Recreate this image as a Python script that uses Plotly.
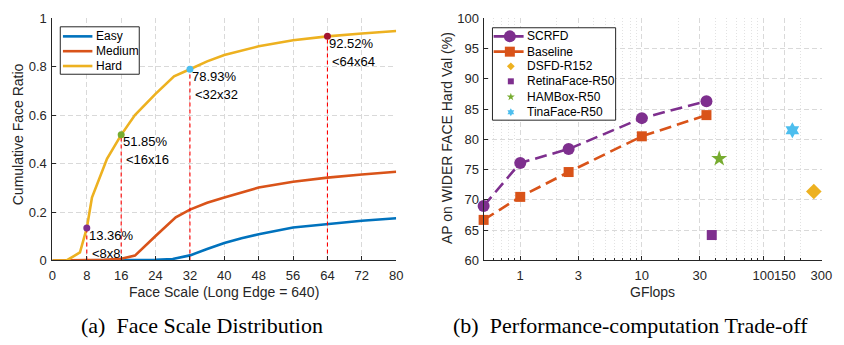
import math
import plotly.graph_objects as go

# ---------------- data: (a) face scale distribution ----------------
easy_x = [0, 16, 24, 28, 32, 36, 40, 44, 48, 56, 64, 72, 80]
easy_y = [0, 0.0, 0.003, 0.006, 0.021, 0.047, 0.072, 0.092, 0.108, 0.136, 0.151, 0.164, 0.174]
medium_x = [0, 8, 12, 16, 19.2, 24, 28.7, 32, 36, 40, 48, 56, 64, 72, 80]
medium_y = [0, 0.001, 0.003, 0.007, 0.02, 0.101, 0.178, 0.21, 0.238, 0.26, 0.301, 0.325, 0.342, 0.355, 0.366]
hard_x = [0, 3.3, 6.4, 8, 9.2, 12.7, 16, 19.2, 24, 28.3, 32, 36, 40, 48, 56, 64, 72, 80]
hard_y = [0, 0, 0.033, 0.1336, 0.26, 0.42, 0.5185, 0.60, 0.688, 0.760, 0.7893, 0.822, 0.848, 0.884, 0.909, 0.9252, 0.937, 0.947]
series_names = ["Easy", "Medium", "Hard"]
series_colors = ["#0072BD", "#D95319", "#EDB120"]

mark_x = [8, 16, 32, 64]
mark_y = [0.1336, 0.5185, 0.7893, 0.9252]
mark_pct = ["13.36%", "51.85%", "78.93%", "92.52%"]
mark_size = ["<8x8", "<16x16", "<32x32", "<64x64"]
mark_colors = ["#7E2F8E", "#77AC30", "#4DBEEE", "#A2142F"]

left_xticks = [0, 8, 16, 24, 32, 40, 48, 56, 64, 72, 80]
left_yticks = [0, 0.2, 0.4, 0.6, 0.8, 1]
left_yticktext = ["0", "0.2", "0.4", "0.6", "0.8", "1"]

# ---------------- data: (b) performance-computation trade-off ----------------
gflops = [0.5, 1, 2.5, 10, 34]
scrfd_ap = [69.0, 76.1, 78.4, 83.5, 86.3]
baseline_ap = [66.7, 70.5, 74.6, 80.5, 84.0]
other_names = ["DSFD-R152", "RetinaFace-R50", "HAMBox-R50", "TinaFace-R50"]
other_gflops = [259.55, 37.59, 43.28, 172.95]
other_ap = [71.4, 64.2, 76.8, 81.5]
other_colors = ["#EDB120", "#7E2F8E", "#77AC30", "#4DBEEE"]
other_symbols = ["diamond", "square", "star", "hexagram"]
other_sizes = [12, 10, 12, 12]

right_xticks = [1, 3, 10, 30, 100, 150, 300]
right_xticktext = ["1", "3", "10", "30", "100", "150", "300"]
right_minor = [0.6, 0.7, 0.8, 0.9, 2, 4, 5, 6, 7, 8, 9, 20, 40, 50, 60, 70, 80, 90, 200]
right_yticks = [60, 65, 70, 75, 80, 85, 90, 95, 100]

# ---------------- layout constants ----------------
W, H = 844, 345
SANS = "Liberation Sans, Arial, sans-serif"
SERIF = "Liberation Serif, Times New Roman, serif"
AXC = "#262626"
GRID = "#d9d9d9"


def px(x):
    return x / W


def py(y):
    return 1 - y / H


fig = go.Figure()

# ---- left panel traces ----
for xs, ys, c in zip([easy_x, medium_x, hard_x], [easy_y, medium_y, hard_y], series_colors):
    fig.add_trace(go.Scatter(x=xs, y=ys, mode="lines", line=dict(color=c, width=2.6),
                             xaxis="x", yaxis="y", showlegend=False, hoverinfo="skip"))
for mx, my in zip(mark_x, mark_y):
    fig.add_trace(go.Scatter(x=[mx, mx], y=[0, my], mode="lines",
                             line=dict(color="#FF0000", width=1.1, dash="4px,3px"),
                             xaxis="x", yaxis="y", showlegend=False, hoverinfo="skip"))
fig.add_trace(go.Scatter(x=mark_x, y=mark_y, mode="markers",
                         marker=dict(color=mark_colors, size=7),
                         xaxis="x", yaxis="y", showlegend=False, cliponaxis=False))

# ---- right panel traces ----
fig.add_trace(go.Scatter(x=gflops, y=scrfd_ap, mode="lines+markers",
                         line=dict(color="#7E2F8E", width=2.6, dash="12px,6px"),
                         marker=dict(symbol="circle", size=12, color="#7E2F8E"),
                         xaxis="x2", yaxis="y2", showlegend=False, cliponaxis=False))
fig.add_trace(go.Scatter(x=gflops, y=baseline_ap, mode="lines+markers",
                         line=dict(color="#D95319", width=2.6, dash="12px,6px"),
                         marker=dict(symbol="square", size=10, color="#D95319"),
                         xaxis="x2", yaxis="y2", showlegend=False, cliponaxis=False))
for gx, ay, c, s, sz in zip(other_gflops, other_ap, other_colors, other_symbols, other_sizes):
    fig.add_trace(go.Scatter(x=[gx], y=[ay], mode="markers",
                             marker=dict(symbol=s, size=sz, color=c),
                             xaxis="x2", yaxis="y2", showlegend=False, cliponaxis=False))

# ---- manual legends drawn in a pixel-coordinate overlay axis ----
def box(x0, y0, x1, y1):
    fig.add_trace(go.Scatter(x=[x0, x1, x1, x0, x0], y=[y0, y0, y1, y1, y0], mode="lines",
                             fill="toself", fillcolor="white",
                             line=dict(color=AXC, width=1), xaxis="x3", yaxis="y3",
                             showlegend=False, hoverinfo="skip"))


annotations = []

# left legend
box(57.3, 20.7, 137.7, 70.3)
for name, c, ly in zip(series_names, series_colors, [30.7, 46.2, 61.7]):
    fig.add_trace(go.Scatter(x=[60, 90], y=[ly, ly], mode="lines", line=dict(color=c, width=2.6),
                             xaxis="x3", yaxis="y3", showlegend=False, hoverinfo="skip"))
    annotations.append(dict(x=92.3, y=ly, xref="x3", yref="y3", text=name, showarrow=False,
                            xanchor="left", yanchor="middle", borderpad=0,
                            font=dict(family=SANS, size=12, color="#000")))

# right legend
box(497.3, 21.7, 622.7, 118.3)
right_leg_y = [30.7, 46.7, 62.0, 77.7, 94.0, 110.0]
for (name, c, sym, sz), ly in zip([("SCRFD", "#7E2F8E", "circle", 12), ("Baseline", "#D95319", "square", 10)],
                                  right_leg_y[:2]):
    fig.add_trace(go.Scatter(x=[498.5, 529], y=[ly, ly], mode="lines",
                             line=dict(color=c, width=2.6, dash="12px,6px"),
                             xaxis="x3", yaxis="y3", showlegend=False, hoverinfo="skip"))
    fig.add_trace(go.Scatter(x=[515], y=[ly], mode="markers", marker=dict(symbol=sym, size=sz, color=c),
                             xaxis="x3", yaxis="y3", showlegend=False, hoverinfo="skip"))
    annotations.append(dict(x=531.7, y=ly, xref="x3", yref="y3", text=name, showarrow=False,
                            xanchor="left", yanchor="middle", borderpad=0,
                            font=dict(family=SANS, size=12, color="#000")))
for name, c, sym, ly in zip(other_names, other_colors, other_symbols, right_leg_y[2:]):
    fig.add_trace(go.Scatter(x=[516], y=[ly], mode="markers", marker=dict(symbol=sym, size=6, color=c),
                             xaxis="x3", yaxis="y3", showlegend=False, hoverinfo="skip"))
    annotations.append(dict(x=531.7, y=ly, xref="x3", yref="y3", text=name, showarrow=False,
                            xanchor="left", yanchor="middle", borderpad=0,
                            font=dict(family=SANS, size=12, color="#000")))

# point labels on the Hard curve
for mx, my, p, s in zip(mark_x, mark_y, mark_pct, mark_size):
    annotations.append(dict(x=mx, y=my, xref="x", yref="y", text=p, showarrow=False,
                            xanchor="left", yanchor="middle", xshift=1, yshift=-7, borderpad=0,
                            font=dict(family=SANS, size=13, color="#000")))
    annotations.append(dict(x=mx, y=my, xref="x", yref="y", text=s.replace("<", "&lt;"), showarrow=False,
                            xanchor="left", yanchor="middle", xshift=4, yshift=-25, borderpad=0,
                            font=dict(family=SANS, size=13, color="#000")))

# axis titles and captions
title_font = dict(family=SANS, size=14, color=AXC)
annotations += [
    dict(x=px(224), y=py(298), xref="paper", yref="paper", text="Face Scale (Long Edge = 640)",
         showarrow=False, xanchor="center", yanchor="middle", font=title_font),
    dict(x=px(14.3), y=py(133), xref="paper", yref="paper", text="Cumulative Face Ratio",
         showarrow=False, textangle=-90, xanchor="center", yanchor="middle", font=title_font),
    dict(x=px(660.3), y=py(298), xref="paper", yref="paper", text="GFlops",
         showarrow=False, xanchor="center", yanchor="middle", font=title_font),
    dict(x=px(451), y=py(137), xref="paper", yref="paper", text="AP on WIDER FACE Hard Val (%)",
         showarrow=False, textangle=-90, xanchor="center", yanchor="middle", font=title_font),
    dict(x=px(201.5), y=py(333), xref="paper", yref="paper", text="(a)  Face Scale Distribution",
         showarrow=False, xanchor="center", yanchor="middle",
         font=dict(family=SERIF, size=22, color="#000")),
    dict(x=px(638), y=py(333), xref="paper", yref="paper", text="(b)  Performance-computation Trade-off",
         showarrow=False, xanchor="center", yanchor="middle",
         font=dict(family=SERIF, size=22, color="#000")),
]

tick_font = dict(family=SANS, size=13, color=AXC)
common = dict(showline=True, linecolor=AXC, linewidth=1, mirror=False, ticks="inside", ticklen=4,
              tickcolor=AXC, tickfont=tick_font, showgrid=True, gridcolor=GRID, griddash="5px,3px",
              gridwidth=1, zeroline=False, fixedrange=True, tickangle=0)

ydom = [py(265), py(11.7)]
fig.update_layout(
    width=W, height=H, margin=dict(l=0, r=0, t=0, b=0),
    paper_bgcolor="white", plot_bgcolor="rgba(0,0,0,0)",
    showlegend=False,
    xaxis=dict(domain=[px(49.3), px(399.3)], range=[0, 80.0001], tickmode="array", tickvals=left_xticks,
               anchor="y", ticklabelstandoff=3, **common),
    yaxis=dict(domain=ydom, range=[0, 1.0001], tickmode="array", tickvals=left_yticks,
               ticktext=left_yticktext, anchor="x", ticklabelstandoff=2, **common),
    xaxis2=dict(domain=[px(488.3), px(832.3)], type="log",
                range=[math.log10(0.5), math.log10(300) + 0.0005],
                tickmode="array", tickvals=right_xticks, ticktext=right_xticktext, anchor="y2",
                ticklabelstandoff=3,
                minor=dict(tickmode="array", tickvals=right_minor, ticks="inside", ticklen=2,
                           tickcolor=AXC, showgrid=True, gridcolor="#e2e2e2", griddash="1px,2px"),
                **common),
    yaxis2=dict(domain=ydom, range=[60, 100.0001], tickmode="array", tickvals=right_yticks,
                anchor="x2", ticklabelstandoff=1, **common),
    xaxis3=dict(domain=[0, 1], range=[0, W], visible=False, fixedrange=True, anchor="y3"),
    yaxis3=dict(domain=[0, 1], range=[H, 0], visible=False, fixedrange=True, anchor="x3"),
    annotations=annotations,
)

fig.write_html("out.html")
